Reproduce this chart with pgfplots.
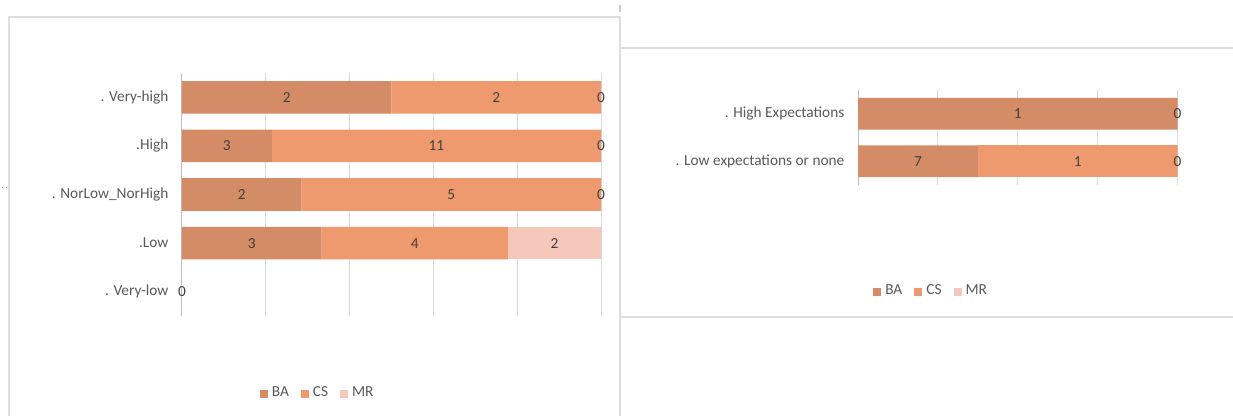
\documentclass[border=0pt]{standalone}
\usepackage{fontspec}
\setmainfont{Carlito}
\usepackage{pgfplots}
\pgfplotsset{compat=1.18}
\usepackage{pgfplotstable}

\definecolor{ba}{RGB}{212,140,102}
\definecolor{cs}{RGB}{238,154,110}
\definecolor{mr}{RGB}{245,200,187}
\definecolor{lblgray}{RGB}{64,64,64}
\definecolor{catgray}{RGB}{89,89,89}
\definecolor{gridgray}{RGB}{217,217,217}
\definecolor{framegray}{RGB}{222,222,222}

\pgfplotstableread{
y BA CS MR
4 50 50 0
3 21.43 78.57 0
2 28.57 71.43 0
1 33.33 44.44 22.23
0 0 0 0
}\leftdata

\pgfplotstableread{
x y lab
25 4 2
75 4 2
100 4 0
10.71 3 3
60.71 3 11
100 3 0
14.29 2 2
64.29 2 5
100 2 0
16.67 1 3
55.56 1 4
88.89 1 2
0 0 0
}\leftlabels

\pgfplotstableread{
y BA CS MR
1 100 0 0
0 37.5 62.5 0
}\rightdata

\pgfplotstableread{
x y lab
50 1 1
100 1 0
18.75 0 7
68.75 0 1
100 0 0
}\rightlabels

\newcommand{\chartfont}{\fontsize{11.5}{13}\selectfont}

\pgfplotsset{
  chartbase/.style={
    scale only axis,
    anchor=south west,
    xmin=0, xmax=100,
    xticklabels={},
    major tick length=0pt,
    axis line style={draw=none},
    xmajorgrids,
    grid style={gridgray, line width=0.75pt},
    extra x ticks={0},
    extra x tick labels={},
    extra x tick style={grid style={draw={rgb,255:red,191;green,191;blue,191}, line width=0.75pt}},
    yticklabel style={anchor=east, xshift=-6.7pt, text=catgray, font=\chartfont},
    legend style={draw=none, fill=none, legend columns=-1, anchor=center,
      font=\chartfont, text=catgray,
      /tikz/every odd column/.append style={column sep=1pt},
      /tikz/every even column/.append style={column sep=7pt},
      inner sep=0pt},
  },
  sq/.style={legend image code/.code={\fill[##1, draw=none] (0pt,-3.5pt) rectangle (6pt,2.5pt);}},
  labelbase/.style={
    scale only axis, anchor=south west, xmin=0, xmax=100, hide axis,
  },
  lblplot/.style={only marks, mark=*, mark size=0pt, nodes near coords,
    point meta=explicit symbolic,
    nodes near coords style={anchor=center, text=lblgray, font=\chartfont}},
}

\begin{document}
\begin{tikzpicture}
\path[use as bounding box] (0,0) rectangle (924.75pt,312pt);
% chart frames
\draw[framegray, line width=1pt] (6.75pt,0pt) -- (6.75pt,299.25pt) -- (465pt,299.25pt) -- (465pt,0pt);
\draw[framegray!80!gray, line width=1pt] (465pt,303pt) -- (465pt,308.25pt);
\draw[framegray, line width=1pt] (465pt,276pt) -- (924.75pt,276pt);
\draw[framegray, line width=1pt] (465pt,74.25pt) -- (924.75pt,74.25pt);
\draw[gray!60, line width=0.4pt] (1.5pt,171.75pt) -- (2.2pt,171.75pt) (4.5pt,171.75pt) -- (5.2pt,171.75pt);

% left chart
\begin{axis}[chartbase,
  at={(136.5pt,75pt)}, width=314.25pt, height=182.25pt,
  xbar stacked, bar width=0.67,
  ymin=-0.5, ymax=4.5,
  xtick={0,20,...,100},
  ytick={0,1,2,3,4},
  yticklabels={. Very-low, .Low, . NorLow\_NorHigh, .High, . Very-high},
  legend style={at={(rel axis cs:0.3246,-0.317)}},
]
\addplot[fill=ba, draw=none, sq] table[x=BA, y=y]{\leftdata};
\addplot[fill=cs, draw=none, sq] table[x=CS, y=y]{\leftdata};
\addplot[fill=mr, draw=none, sq] table[x=MR, y=y]{\leftdata};
\legend{BA, CS, MR}
\end{axis}
\begin{axis}[labelbase,
  at={(136.5pt,75pt)}, width=314.25pt, height=182.25pt,
  ymin=-0.5, ymax=4.5]
\addplot[lblplot] table[x=x, y=y, meta=lab]{\leftlabels};
\end{axis}

% right chart
\begin{axis}[chartbase,
  at={(643.5pt,173.25pt)}, width=239.625pt, height=71.25pt,
  xbar stacked, bar width=0.67,
  ymin=-0.5, ymax=1.5,
  xtick={0,25,...,100},
  ytick={0,1},
  yticklabels={. Low expectations or none, . High Expectations},
  legend style={at={(rel axis cs:0.23,-1.116)}},
]
\addplot[fill=ba, draw=none, sq] table[x=BA, y=y]{\rightdata};
\addplot[fill=cs, draw=none, sq] table[x=CS, y=y]{\rightdata};
\addplot[fill=mr, draw=none, sq] table[x=MR, y=y]{\rightdata};
\legend{BA, CS, MR}
\end{axis}
\begin{axis}[labelbase,
  at={(643.5pt,173.25pt)}, width=239.625pt, height=71.25pt,
  ymin=-0.5, ymax=1.5]
\addplot[lblplot] table[x=x, y=y, meta=lab]{\rightlabels};
\end{axis}
\end{tikzpicture}
\end{document}
